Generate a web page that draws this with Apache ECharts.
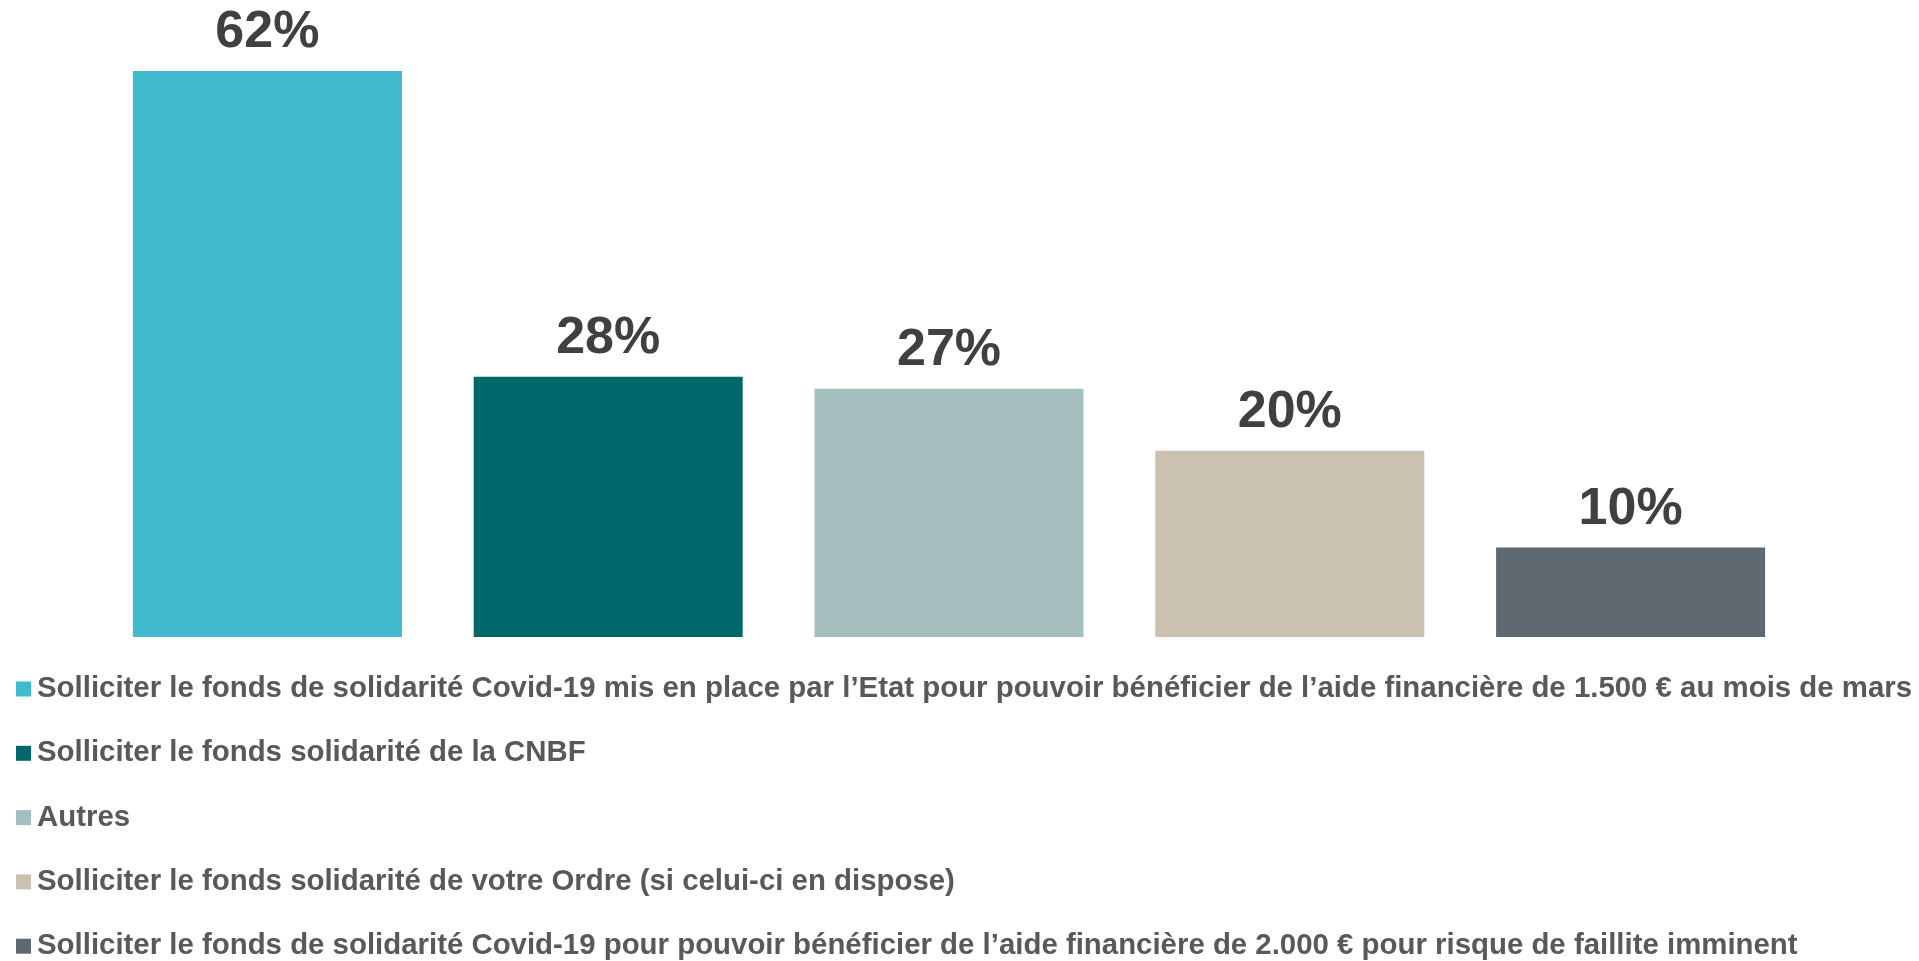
<!DOCTYPE html>
<html>
<head>
<meta charset="utf-8">
<script src="https://cdn.jsdelivr.net/npm/echarts@6/dist/echarts.min.js"></script>
<style>
html,body{margin:0;padding:0;background:#fff;}
#chart{width:1919px;height:961px;}
</style>
</head>
<body>
<div id="chart"></div>
<script>
const categories = [
  "Solliciter le fonds de solidarité Covid-19 mis en place par l’Etat pour pouvoir bénéficier de l’aide financière de 1.500 € au mois de mars",
  "Solliciter le fonds solidarité de la CNBF",
  "Autres",
  "Solliciter le fonds solidarité de votre Ordre (si celui-ci en dispose)",
  "Solliciter le fonds de solidarité Covid-19 pour pouvoir bénéficier de l’aide financière de 2.000 € pour risque de faillite imminent"
];
const values = [62, 28.5, 27.2, 20.4, 9.8];
const valueLabels = ["62%", "28%", "27%", "20%", "10%"];
const colors = ["#3FBBCD", "#00676B", "#A5BFBF", "#CAC1B1", "#5E686E"];

const series = categories.map((name, i) => ({
  name: name,
  type: 'bar',
  stack: 'all',
  barWidth: 269,
  itemStyle: { color: colors[i] },
  label: {
    show: true,
    position: 'top',
    distance: 12,
    fontFamily: 'Liberation Sans, Arial, sans-serif',
    fontWeight: 'bold',
    fontSize: 52,
    color: '#404040',
    formatter: () => valueLabels[i]
  },
  data: categories.map((c, j) => j === i ? values[i] : null)
}));

const chart = echarts.init(document.getElementById('chart'));
chart.setOption({
  animation: false,
  grid: { left: 97, right: 118, top: 71, bottom: 324, containLabel: false },
  xAxis: {
    type: 'category',
    data: categories.map((c, i) => String(i)),
    axisLine: { show: false },
    axisTick: { show: false },
    axisLabel: { show: false }
  },
  yAxis: {
    type: 'value',
    min: 0,
    max: 62,
    show: false,
    splitLine: { show: false }
  },
  legend: {
    orient: 'vertical',
    left: 16,
    top: 674,
    height: 330,
    padding: 0,
    itemWidth: 15,
    itemHeight: 15,
    itemGap: 34.3,
    icon: 'rect',
    selectedMode: false,
    textStyle: {
      fontFamily: 'Liberation Sans, Arial, sans-serif',
      fontWeight: 'bold',
      fontSize: 29.4,
      lineHeight: 30,
      color: '#595959',
      padding: [0, 0, 0, 1]
    },
    data: categories
  },
  series: series
});
</script>
</body>
</html>
